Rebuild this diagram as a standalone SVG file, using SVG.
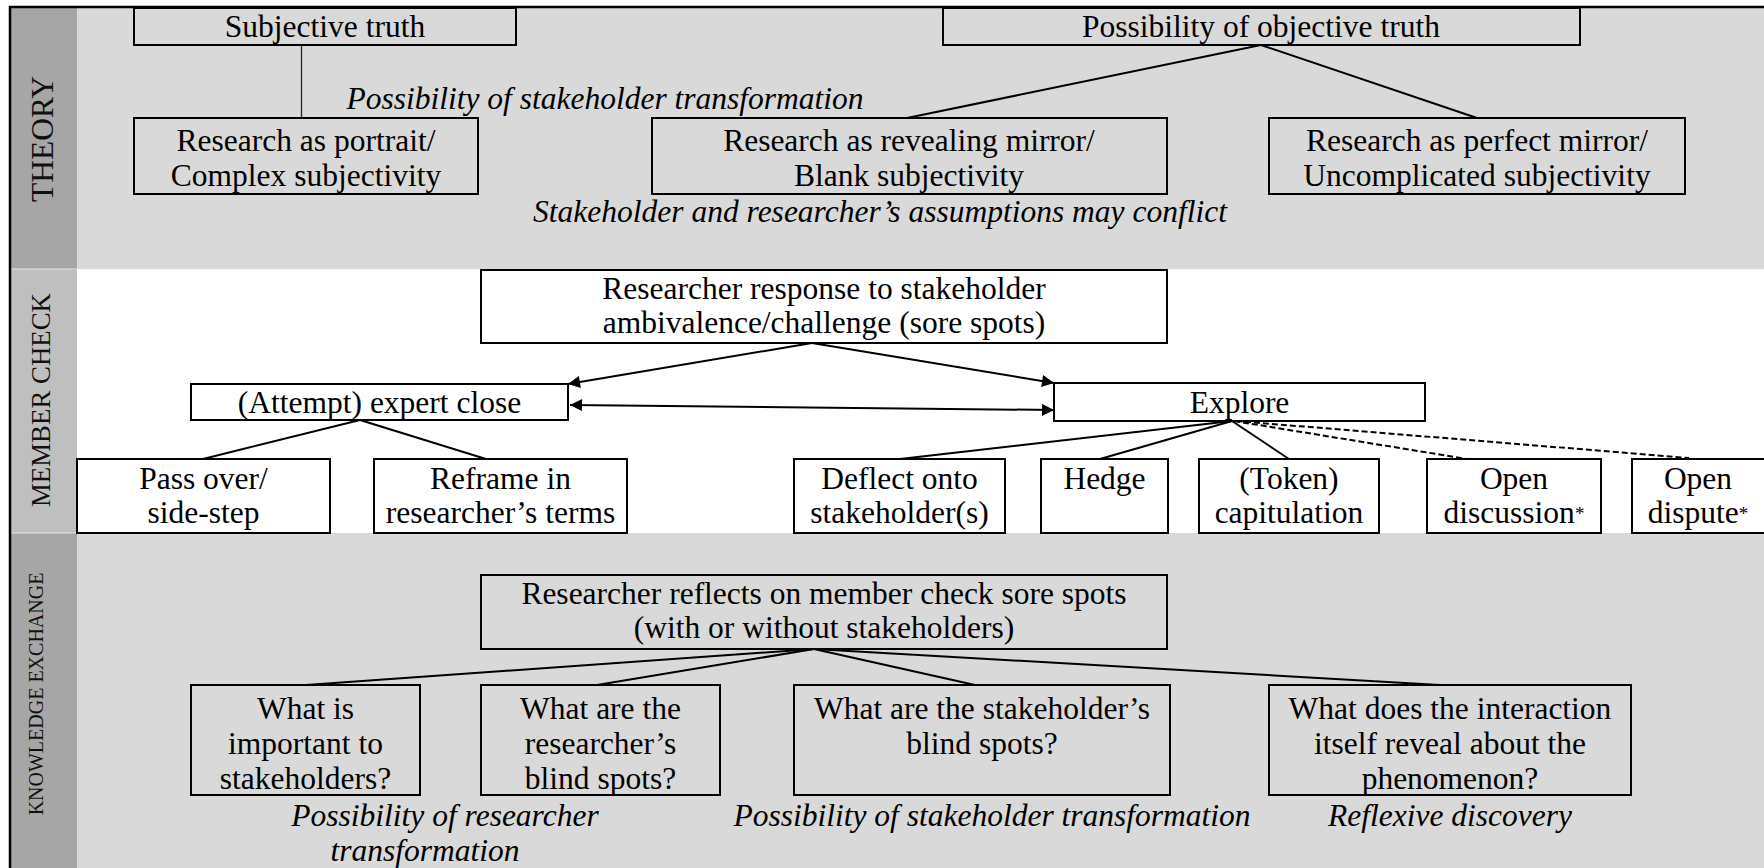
<svg xmlns="http://www.w3.org/2000/svg" width="1764" height="868" viewBox="0 0 1764 868">
<defs>
<style>
.box{fill:none;stroke:#000;stroke-width:2}
.t{font-family:"Liberation Serif","Times New Roman",serif;font-size:31.5px;fill:#000;text-anchor:middle}
.i{font-style:italic}
.ln{stroke:#000;stroke-width:2;fill:none}
.thin{stroke:#222;stroke-width:1.3;fill:none}
.dash{stroke-dasharray:6 3}
.side{font-family:"Liberation Serif","Times New Roman",serif;fill:#111;text-anchor:middle}
.ast{font-size:19px}
</style>
<marker id="ah" viewBox="0 0 10 10" refX="10" refY="5" markerWidth="18" markerHeight="12" markerUnits="userSpaceOnUse" orient="auto-start-reverse"><path d="M0,0 L10,5 L0,10 z" fill="#000"/></marker>
</defs>

<g id="background">
<rect x="0" y="0" width="1764" height="868" fill="#fff"/>
<rect x="77" y="7" width="1687" height="262" fill="#d9d9d9"/>
<rect x="77" y="269" width="1687" height="264" fill="#fff"/>
<rect x="77" y="533" width="1687" height="335" fill="#d9d9d9"/>
<rect x="10" y="7" width="67" height="262" fill="#a6a6a6"/>
<rect x="10" y="269" width="67" height="264" fill="#bfbfbf"/>
<rect x="10" y="533" width="67" height="335" fill="#a6a6a6"/>
<path d="M11,269 H77 M11,533 H77" stroke="#e4e4e4" stroke-width="1"/>
<path d="M10,868 V7 H1764" stroke="#000" stroke-width="2.5" fill="none"/>
</g>

<g id="side-labels">
<text class="side" font-size="31.5" transform="translate(53,139) rotate(-90)">THEORY</text>
<text class="side" font-size="27.5" textLength="214" lengthAdjust="spacingAndGlyphs" transform="translate(50,400) rotate(-90)">MEMBER CHECK</text>
<text class="side" font-size="20" transform="translate(43,694) rotate(-90)">KNOWLEDGE EXCHANGE</text>
</g>

<g id="connectors">
<line class="thin" x1="301.5" y1="45" x2="301.5" y2="118"/>
<line class="ln" x1="1261" y1="45" x2="907" y2="118"/>
<line class="ln" x1="1261" y1="45" x2="1477" y2="118"/>
<line class="ln" x1="812" y1="343" x2="568" y2="384" marker-end="url(#ah)"/>
<line class="ln" x1="812" y1="343" x2="1054" y2="383" marker-end="url(#ah)"/>
<line class="ln" x1="570" y1="405" x2="1054" y2="410" marker-start="url(#ah)" marker-end="url(#ah)"/>
<line class="ln" x1="360" y1="420" x2="203" y2="459"/>
<line class="ln" x1="360" y1="420" x2="486" y2="459"/>
<line class="ln" x1="1232" y1="421" x2="900" y2="459"/>
<line class="ln" x1="1232" y1="421" x2="1100" y2="459"/>
<line class="ln" x1="1232" y1="421" x2="1289" y2="459"/>
<line class="ln dash" x1="1234" y1="421" x2="1467" y2="459"/>
<line class="ln dash" x1="1236" y1="421" x2="1689" y2="458"/>
<line class="ln" x1="814" y1="649" x2="306" y2="685"/>
<line class="ln" x1="814" y1="649" x2="597" y2="685"/>
<line class="ln" x1="814" y1="649" x2="975" y2="685"/>
<line class="ln" x1="814" y1="649" x2="1440" y2="685"/>
</g>

<g id="subjective-truth">
<rect class="box" x="134" y="8" width="382" height="37"/>
<text class="t" x="325" y="37">Subjective truth</text>
</g>
<g id="objective-truth">
<rect class="box" x="943" y="8" width="637" height="37"/>
<text class="t" x="1261" y="37">Possibility of objective truth</text>
</g>
<g id="label-stakeholder-transformation-1">
<text class="t i" x="605" y="109">Possibility of stakeholder transformation</text>
</g>
<g id="portrait">
<rect class="box" x="134" y="118" width="344" height="76"/>
<text class="t" x="306"><tspan x="306" y="151">Research as portrait/</tspan><tspan x="306" y="186">Complex subjectivity</tspan></text>
</g>
<g id="revealing-mirror">
<rect class="box" x="652" y="118" width="515" height="76"/>
<text class="t" x="909"><tspan x="909" y="151">Research as revealing mirror/</tspan><tspan x="909" y="186">Blank subjectivity</tspan></text>
</g>
<g id="perfect-mirror">
<rect class="box" x="1269" y="118" width="416" height="76"/>
<text class="t" x="1477"><tspan x="1477" y="151">Research as perfect mirror/</tspan><tspan x="1477" y="186">Uncomplicated subjectivity</tspan></text>
</g>
<g id="label-conflict">
<text class="t i" x="880" y="222">Stakeholder and researcher’s assumptions may conflict</text>
</g>

<g id="researcher-response">
<rect class="box" x="481" y="270" width="686" height="73"/>
<text class="t" x="824"><tspan x="824" y="299">Researcher response to stakeholder</tspan><tspan x="824" y="333">ambivalence/challenge (sore spots)</tspan></text>
</g>
<g id="expert-close">
<rect class="box" x="191" y="384" width="377" height="36"/>
<text class="t" x="379.5" y="413">(Attempt) expert close</text>
</g>
<g id="explore">
<rect class="box" x="1054" y="383" width="371" height="38"/>
<text class="t" x="1239.5" y="413">Explore</text>
</g>
<g id="pass-over">
<rect class="box" x="77" y="459" width="253" height="74"/>
<text class="t" x="203.5"><tspan x="203.5" y="489">Pass over/</tspan><tspan x="203.5" y="523">side-step</tspan></text>
</g>
<g id="reframe">
<rect class="box" x="374" y="459" width="253" height="74"/>
<text class="t" x="500.5"><tspan x="500.5" y="489">Reframe in</tspan><tspan x="500.5" y="523">researcher’s terms</tspan></text>
</g>
<g id="deflect">
<rect class="box" x="794" y="459" width="211" height="74"/>
<text class="t" x="899.5"><tspan x="899.5" y="489">Deflect onto</tspan><tspan x="899.5" y="523">stakeholder(s)</tspan></text>
</g>
<g id="hedge">
<rect class="box" x="1041" y="459" width="127" height="74"/>
<text class="t" x="1104.5" y="489">Hedge</text>
</g>
<g id="capitulation">
<rect class="box" x="1199" y="459" width="180" height="74"/>
<text class="t" x="1289"><tspan x="1289" y="489">(Token)</tspan><tspan x="1289" y="523">capitulation</tspan></text>
</g>
<g id="open-discussion">
<rect class="box" x="1427" y="459" width="174" height="74"/>
<text class="t" x="1514"><tspan x="1514" y="489">Open</tspan><tspan x="1514" y="523">discussion<tspan class="ast" dy="-3">*</tspan></tspan></text>
</g>
<g id="open-dispute">
<rect class="box" x="1632" y="459" width="140" height="74"/>
<text class="t" x="1698"><tspan x="1698" y="489">Open</tspan><tspan x="1698" y="523">dispute<tspan class="ast" dy="-3">*</tspan></tspan></text>
</g>

<g id="researcher-reflects">
<rect class="box" x="481" y="575" width="686" height="74"/>
<text class="t" x="824"><tspan x="824" y="604">Researcher reflects on member check sore spots</tspan><tspan x="824" y="638">(with or without stakeholders)</tspan></text>
</g>
<g id="important-to-stakeholders">
<rect class="box" x="191" y="685" width="229" height="110"/>
<text class="t" x="305.5"><tspan x="305.5" y="719">What is</tspan><tspan x="305.5" y="754">important to</tspan><tspan x="305.5" y="789">stakeholders?</tspan></text>
</g>
<g id="researcher-blind-spots">
<rect class="box" x="481" y="685" width="239" height="110"/>
<text class="t" x="600.5"><tspan x="600.5" y="719">What are the</tspan><tspan x="600.5" y="754">researcher’s</tspan><tspan x="600.5" y="789">blind spots?</tspan></text>
</g>
<g id="stakeholder-blind-spots">
<rect class="box" x="794" y="685" width="376" height="110"/>
<text class="t" x="982"><tspan x="982" y="719">What are the stakeholder’s</tspan><tspan x="982" y="754">blind spots?</tspan></text>
</g>
<g id="interaction-reveal">
<rect class="box" x="1269" y="685" width="362" height="110"/>
<text class="t" x="1450"><tspan x="1450" y="719">What does the interaction</tspan><tspan x="1450" y="754">itself reveal about the</tspan><tspan x="1450" y="789">phenomenon?</tspan></text>
</g>
<g id="label-researcher-transformation">
<text class="t i" x="445"><tspan x="445" y="826">Possibility of researcher</tspan><tspan x="425" y="861">transformation</tspan></text>
</g>
<g id="label-stakeholder-transformation-2">
<text class="t i" x="992" y="826">Possibility of stakeholder transformation</text>
</g>
<g id="label-reflexive">
<text class="t i" x="1450" y="826">Reflexive discovery</text>
</g>
</svg>
